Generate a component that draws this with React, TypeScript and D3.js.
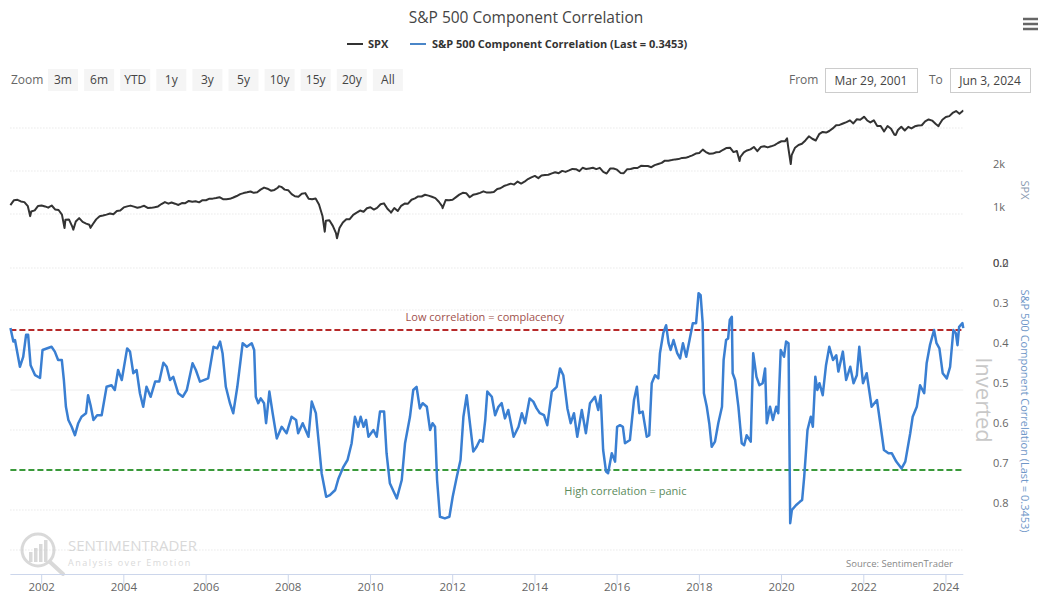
import React from "react";
import * as d3 from "d3";

// ---------------- DATA ----------------
const TITLE = "S&P 500 Component Correlation";
const SERIES_NAMES = ["SPX", "S&P 500 Component Correlation (Last = 0.3453)"];
const ZOOM_BUTTONS = ["3m", "6m", "YTD", "1y", "3y", "5y", "10y", "15y", "20y", "All"];
const FROM_LABEL = "Mar 29, 2001";
const TO_LABEL = "Jun 3, 2024";
const START_DATE = new Date(2001, 2, 29);
const END_DATE = new Date(2024, 5, 3);
const YEAR_TICKS = [2002, 2004, 2006, 2008, 2010, 2012, 2014, 2016, 2018, 2020, 2022, 2024];

// SPX: first point, month-end closes from Apr 2001 to May 2024, last point, plus intra-month extremes
const SPX_FIRST = 1153;
const SPX_LAST = 5283;
const SPX_MONTHLY = [
  1249, 1256, 1224, 1211, 1134, 1041, 1060, 1139, 1148,
  1130, 1107, 1147, 1077, 1067, 990, 912, 916, 815, 886, 936, 880,
  856, 841, 848, 917, 964, 975, 990, 1008, 996, 1051, 1058, 1112,
  1131, 1145, 1126, 1107, 1121, 1141, 1102, 1104, 1115, 1130, 1174, 1212,
  1181, 1204, 1181, 1157, 1192, 1191, 1234, 1220, 1229, 1207, 1249, 1248,
  1280, 1281, 1295, 1311, 1270, 1270, 1277, 1304, 1336, 1378, 1401, 1418,
  1438, 1407, 1421, 1482, 1531, 1503, 1455, 1474, 1527, 1549, 1481, 1468,
  1379, 1331, 1323, 1386, 1400, 1280, 1267, 1283, 1166, 969, 896, 903,
  826, 735, 798, 873, 919, 919, 987, 1021, 1057, 1036, 1096, 1115,
  1074, 1104, 1169, 1187, 1089, 1031, 1102, 1049, 1141, 1183, 1181, 1258,
  1286, 1327, 1326, 1364, 1345, 1321, 1292, 1219, 1131, 1253, 1247, 1258,
  1312, 1366, 1408, 1398, 1310, 1362, 1379, 1407, 1441, 1412, 1416, 1426,
  1498, 1515, 1569, 1598, 1631, 1606, 1686, 1633, 1682, 1757, 1806, 1848,
  1783, 1859, 1872, 1884, 1924, 1960, 1931, 2003, 1972, 2018, 2068, 2059,
  1995, 2105, 2068, 2086, 2107, 2063, 2104, 1972, 1920, 2079, 2080, 2044,
  1940, 1932, 2060, 2065, 2097, 2099, 2174, 2171, 2168, 2126, 2199, 2239,
  2279, 2364, 2363, 2384, 2412, 2423, 2470, 2472, 2519, 2575, 2648, 2674,
  2824, 2714, 2641, 2648, 2705, 2718, 2816, 2902, 2914, 2712, 2760, 2507,
  2704, 2784, 2834, 2946, 2752, 2942, 2980, 2926, 2977, 3038, 3141, 3231,
  3226, 2954, 2585, 2912, 3044, 3100, 3271, 3500, 3363, 3270, 3622, 3756,
  3714, 3811, 3973, 4181, 4204, 4298, 4395, 4523, 4308, 4605, 4567, 4766,
  4516, 4374, 4530, 4132, 4132, 3785, 4130, 3955, 3586, 3872, 4080, 3840,
  4077, 3970, 4109, 4169, 4180, 4450, 4589, 4508, 4288, 4194, 4568, 4770,
  4846, 5096, 5254, 5036, 5278,
];
const SPX_EXTREMES: [string, number][] = [
  ["2001-09-21", 966], ["2002-07-23", 797], ["2002-10-09", 777], ["2003-03-11", 800],
  ["2007-10-09", 1565], ["2008-11-20", 752], ["2009-03-09", 677], ["2010-07-02", 1023],
  ["2011-10-03", 1099], ["2018-12-24", 2351], ["2020-02-19", 3386], ["2020-03-23", 2237],
  ["2022-01-03", 4797], ["2022-10-12", 3577], ["2023-10-27", 4117],
];
const SPX_TICKS = [{ v: 4000, label: "" }, { v: 2000, label: "2k" }, { v: 1000, label: "1k" }];

// Correlation (decimal years, values)
const CORR_YEARS = [
  2001.24, 2001.31, 2001.35, 2001.47, 2001.55, 2001.62, 2001.67, 2001.73, 2001.84, 2001.96,
  2002.02, 2002.24, 2002.32, 2002.40, 2002.49, 2002.54, 2002.59, 2002.65, 2002.73, 2002.81,
  2002.89, 2002.97, 2003.08, 2003.13, 2003.19, 2003.26, 2003.35, 2003.46, 2003.58, 2003.70,
  2003.78, 2003.86, 2003.95, 2004.08, 2004.15, 2004.23, 2004.31, 2004.39, 2004.47, 2004.55,
  2004.65, 2004.76, 2004.86, 2004.96, 2005.04, 2005.12, 2005.20, 2005.32, 2005.43, 2005.53,
  2005.67, 2005.75, 2005.85, 2006.05, 2006.18, 2006.27, 2006.34, 2006.40, 2006.48, 2006.58,
  2006.66, 2006.76, 2006.84, 2006.89, 2006.99, 2007.11, 2007.17, 2007.21, 2007.27, 2007.33,
  2007.41, 2007.46, 2007.54, 2007.62, 2007.72, 2007.84, 2007.96, 2008.08, 2008.19, 2008.24,
  2008.35, 2008.49, 2008.57, 2008.67, 2008.75, 2008.81, 2008.92, 2009.01, 2009.14, 2009.22,
  2009.34, 2009.44, 2009.54, 2009.62, 2009.70, 2009.76, 2009.83, 2009.89, 2009.95, 2010.07,
  2010.15, 2010.23, 2010.33, 2010.39, 2010.47, 2010.64, 2010.76, 2010.84, 2010.96, 2011.04,
  2011.12, 2011.20, 2011.27, 2011.37, 2011.45, 2011.51, 2011.57, 2011.62, 2011.69, 2011.81,
  2011.92, 2012.00, 2012.10, 2012.19, 2012.26, 2012.34, 2012.40, 2012.50, 2012.58, 2012.66,
  2012.73, 2012.79, 2012.84, 2012.95, 2013.03, 2013.11, 2013.19, 2013.27, 2013.35, 2013.48,
  2013.60, 2013.68, 2013.76, 2013.87, 2013.96, 2014.04, 2014.12, 2014.22, 2014.30, 2014.41,
  2014.53, 2014.61, 2014.69, 2014.79, 2014.87, 2014.95, 2015.03, 2015.14, 2015.24, 2015.34,
  2015.46, 2015.54, 2015.60, 2015.66, 2015.73, 2015.78, 2015.87, 2015.95, 2016.00, 2016.07,
  2016.14, 2016.19, 2016.31, 2016.41, 2016.48, 2016.54, 2016.62, 2016.72, 2016.78, 2016.84,
  2016.92, 2017.00, 2017.04, 2017.12, 2017.19, 2017.25, 2017.30, 2017.37, 2017.46, 2017.53,
  2017.60, 2017.68, 2017.76, 2017.84, 2017.92, 2017.98, 2018.03, 2018.08, 2018.11, 2018.18,
  2018.24, 2018.30, 2018.38, 2018.46, 2018.55, 2018.59, 2018.65, 2018.70, 2018.74, 2018.79,
  2018.81, 2018.87, 2018.95, 2019.03, 2019.09, 2019.15, 2019.25, 2019.31, 2019.39, 2019.46,
  2019.54, 2019.60, 2019.64, 2019.72, 2019.79, 2019.87, 2019.92, 2019.98, 2020.06, 2020.11,
  2020.17, 2020.21, 2020.25, 2020.35, 2020.45, 2020.50, 2020.55, 2020.63, 2020.71, 2020.76,
  2020.82, 2020.87, 2020.92, 2021.00, 2021.08, 2021.16, 2021.25, 2021.33, 2021.38, 2021.49,
  2021.57, 2021.67, 2021.75, 2021.83, 2021.89, 2021.98, 2022.07, 2022.19, 2022.32, 2022.40,
  2022.49, 2022.60, 2022.68, 2022.79, 2022.92, 2023.01, 2023.13, 2023.19, 2023.29, 2023.37,
  2023.47, 2023.53, 2023.61, 2023.71, 2023.77, 2023.84, 2023.92, 2024.02, 2024.10, 2024.18,
  2024.24, 2024.28, 2024.32, 2024.40, 2024.42,
];
const CORR_VALUES = [
  0.345, 0.379, 0.375, 0.442, 0.417, 0.362, 0.362, 0.438, 0.463, 0.470,
  0.400, 0.392, 0.404, 0.425, 0.425, 0.475, 0.542, 0.575, 0.592, 0.613,
  0.583, 0.567, 0.558, 0.513, 0.538, 0.575, 0.563, 0.563, 0.492, 0.488,
  0.500, 0.450, 0.475, 0.396, 0.404, 0.458, 0.450, 0.508, 0.542, 0.492,
  0.517, 0.479, 0.479, 0.432, 0.442, 0.475, 0.467, 0.508, 0.517, 0.500,
  0.433, 0.450, 0.479, 0.471, 0.392, 0.396, 0.379, 0.408, 0.492, 0.533,
  0.558, 0.492, 0.425, 0.383, 0.392, 0.383, 0.400, 0.517, 0.533, 0.521,
  0.533, 0.583, 0.504, 0.558, 0.621, 0.592, 0.608, 0.567, 0.575, 0.608,
  0.583, 0.617, 0.529, 0.558, 0.642, 0.708, 0.767, 0.763, 0.750, 0.721,
  0.692, 0.675, 0.633, 0.567, 0.592, 0.567, 0.592, 0.575, 0.617, 0.600,
  0.617, 0.554, 0.554, 0.658, 0.733, 0.771, 0.725, 0.633, 0.567, 0.500,
  0.492, 0.546, 0.533, 0.542, 0.600, 0.583, 0.592, 0.725, 0.817, 0.821,
  0.817, 0.767, 0.717, 0.675, 0.567, 0.513, 0.567, 0.654, 0.642, 0.625,
  0.629, 0.575, 0.504, 0.517, 0.563, 0.542, 0.533, 0.571, 0.550, 0.617,
  0.592, 0.558, 0.583, 0.521, 0.529, 0.546, 0.558, 0.563, 0.588, 0.504,
  0.492, 0.446, 0.463, 0.546, 0.583, 0.558, 0.617, 0.550, 0.608, 0.533,
  0.517, 0.550, 0.513, 0.650, 0.704, 0.708, 0.658, 0.679, 0.592, 0.588,
  0.592, 0.633, 0.625, 0.525, 0.492, 0.558, 0.554, 0.617, 0.613, 0.483,
  0.463, 0.471, 0.408, 0.358, 0.338, 0.383, 0.400, 0.375, 0.408, 0.421,
  0.383, 0.417, 0.375, 0.333, 0.333, 0.258, 0.263, 0.333, 0.508, 0.542,
  0.583, 0.642, 0.629, 0.583, 0.542, 0.425, 0.375, 0.371, 0.325, 0.317,
  0.458, 0.475, 0.542, 0.633, 0.638, 0.613, 0.629, 0.408, 0.467, 0.488,
  0.483, 0.446, 0.583, 0.542, 0.575, 0.542, 0.558, 0.400, 0.417, 0.379,
  0.383, 0.833, 0.800, 0.788, 0.779, 0.775, 0.717, 0.600, 0.567, 0.592,
  0.467, 0.500, 0.483, 0.513, 0.438, 0.392, 0.425, 0.413, 0.454, 0.404,
  0.475, 0.442, 0.483, 0.463, 0.392, 0.483, 0.458, 0.542, 0.525, 0.583,
  0.650, 0.658, 0.658, 0.679, 0.696, 0.679, 0.608, 0.567, 0.542, 0.488,
  0.508, 0.433, 0.388, 0.350, 0.383, 0.396, 0.458, 0.471, 0.442, 0.350,
  0.358, 0.388, 0.342, 0.333, 0.3453,
];
const CORR_TICKS = [0.3, 0.4, 0.5, 0.6, 0.7, 0.8];
const CORR_GRID = [
  { v: 0.3, solid: false }, { v: 0.4, solid: true }, { v: 0.5, solid: true },
  { v: 0.6, solid: false }, { v: 0.7, solid: false }, { v: 0.8, solid: false }, { v: 0.9, solid: false },
];
const PLOT_LINES = [
  { v: 0.35, color: "#b72a2a", label: "Low correlation = complacency", labelColor: "#a0514c", labelYear: 2012.78, dy: -9 },
  { v: 0.7, color: "#3a9a3a", label: "High correlation = panic", labelColor: "#5b8a5b", labelYear: 2016.2, dy: 25 },
];

// ---------------- HELPERS ----------------
const yearToDate = (y: number) => {
  const yr = Math.floor(y);
  const s = new Date(yr, 0, 1).getTime();
  const e = new Date(yr + 1, 0, 1).getTime();
  return new Date(s + (y - yr) * (e - s));
};
const parseDay = (s: string) => {
  const [a, b, c] = s.split("-").map(Number);
  return new Date(a, b - 1, c);
};

const FONT = "'Open Sans', 'DejaVu Sans', sans-serif";

export default function App() {
  const W = 1039, H = 596;
  const x = d3.scaleTime().domain([START_DATE, END_DATE]).range([10.4, 963.3]);
  const ySpx = d3.scaleLog().domain([1000, 4000]).range([214, 128]);
  const yCorr = d3.scaleLinear().domain([0.2, 0.9]).range([270, 550]);

  const spxPts: [Date, number][] = [[START_DATE, SPX_FIRST]];
  SPX_MONTHLY.forEach((v, i) => spxPts.push([new Date(2001, 4 + i, 0), v]));
  spxPts.push([END_DATE, SPX_LAST]);
  SPX_EXTREMES.forEach(([d, v]) => spxPts.push([parseDay(d), v]));
  spxPts.sort((a, b) => a[0].getTime() - b[0].getTime());

  const corrPts: [Date, number][] = CORR_YEARS.map((yy, i) => [yearToDate(yy), CORR_VALUES[i]]);

  const spxLine = d3.line<[Date, number]>().x(d => x(d[0])).y(d => ySpx(d[1]));
  const corrLine = d3.line<[Date, number]>().x(d => x(d[0])).y(d => yCorr(d[1]));

  const [x0, x1] = x.range();

  return (
    <svg width={W} height={H} style={{ position: "absolute", left: 0, top: 0, background: "#fff" }} fontFamily={FONT}>
      <rect width={W} height={H} fill="#fff" />
      {/* Title */}
      <text x={526} y={23} textAnchor="middle" fontSize={15.5} fill="#444">{TITLE}</text>
      {/* hamburger */}
      {[19, 24, 29].map(yy => (
        <line key={yy} x1={1023} x2={1038} y1={yy} y2={yy} stroke="#666" strokeWidth={2.5} />
      ))}
      {/* Legend */}
      <line x1={347} x2={363} y1={44} y2={44} stroke="#333" strokeWidth={2} />
      <text x={368} y={48} fontSize={11} fontWeight="bold" fill="#333">{SERIES_NAMES[0]}</text>
      <line x1={410} x2={426} y1={44} y2={44} stroke="#4a86c8" strokeWidth={2} />
      <text x={432} y={48} fontSize={11} fontWeight="bold" fill="#333">{SERIES_NAMES[1]}</text>

      {/* Range selector */}
      <text x={11} y={84} fontSize={12} fill="#666">Zoom</text>
      {ZOOM_BUTTONS.map((b, i) => {
        const bx = 48 + i * 36.1;
        return (
          <g key={b}>
            <rect x={bx} y={69} width={30} height={22} fill="#f5f5f5" />
            <text x={bx + 15} y={84} textAnchor="middle" fontSize={12} fill="#444">{b}</text>
          </g>
        );
      })}
      <text x={789} y={84} fontSize={12} fill="#666">From</text>
      <rect x={825.5} y={68.5} width={92} height={24} fill="#fff" stroke="#ccc" />
      <text x={871} y={85} textAnchor="middle" fontSize={12} fill="#444">{FROM_LABEL}</text>
      <text x={929} y={84} fontSize={12} fill="#666">To</text>
      <rect x={950.5} y={68.5} width={80} height={24} fill="#fff" stroke="#ccc" />
      <text x={990} y={85} textAnchor="middle" fontSize={12} fill="#444">{TO_LABEL}</text>

      {/* Top pane grid */}
      {SPX_TICKS.map(t => (
        <g key={t.v}>
          <line x1={x0} x2={x1} y1={ySpx(t.v)} y2={ySpx(t.v)} stroke="#ddd" strokeDasharray="1,2" />
          {t.label && <text x={993} y={ySpx(t.v) - 3} fontSize={11} fill="#666">{t.label}</text>}
        </g>
      ))}
      <line x1={x0} x2={x1} y1={268} y2={268} stroke="#ddd" strokeDasharray="1,2" />

      {/* Bottom pane grid */}
      {CORR_GRID.map(g => (
        <line key={g.v} x1={x0} x2={x1} y1={yCorr(g.v)} y2={yCorr(g.v)}
          stroke={g.solid ? "#eee" : "#ddd"} strokeDasharray={g.solid ? undefined : "1,2"} />
      ))}
      {CORR_TICKS.map(t => (
        <text key={t} x={993} y={yCorr(t) - 3} fontSize={11} fill="#666">{t.toFixed(1)}</text>
      ))}
      <text x={993} y={267} fontSize={11} fill="#555">0.2</text>
      <text x={993} y={267} fontSize={11} fill="#555">0.0</text>

      {/* Axis titles */}
      <text transform={`translate(1021,190) rotate(90)`} textAnchor="middle" fontSize={11} fill="#8a9ab0">SPX</text>
      <text transform={`translate(1021,411) rotate(90)`} textAnchor="middle" fontSize={11} fill="#6f97c8">{SERIES_NAMES[1]}</text>
      <text transform={`translate(976,400) rotate(90)`} textAnchor="middle" fontSize={22} fill="#c8c8c8">Inverted</text>

      {/* Watermark */}
      <g opacity={0.55}>
        <circle cx={38} cy={550} r={16} fill="none" stroke="#bbb" strokeWidth={3} />
        {[0, 1, 2, 3].map(i => (
          <rect key={i} x={29 + i * 5} y={552 - i * 4} width={3.5} height={10 + i * 4} fill="#bbb" />
        ))}
        <line x1={50} x2={63} y1={562} y2={574} stroke="#bbb" strokeWidth={4} strokeLinecap="round" />
        <text x={68} y={551} fontSize={15} fill="#bbb">SENTIMENTRADER</text>
        <text x={68} y={566} fontSize={9} fill="#bbb" letterSpacing={1.5}>Analysis over Emotion</text>
      </g>
      <text x={953} y={567} textAnchor="end" fontSize={9.5} fill="#888">Source: SentimenTrader</text>

      {/* Plot lines */}
      {PLOT_LINES.map(p => (
        <g key={p.v}>
          <line x1={x0} x2={x1} y1={yCorr(p.v)} y2={yCorr(p.v)} stroke={p.color} strokeWidth={2} strokeDasharray="6,3" />
          <text x={x(yearToDate(p.labelYear))} y={yCorr(p.v) + p.dy} textAnchor="middle" fontSize={11} fill={p.labelColor}>{p.label}</text>
        </g>
      ))}

      {/* Series */}
      <path d={spxLine(spxPts) || ""} fill="none" stroke="#333" strokeWidth={2} strokeLinejoin="round" />
      <path d={corrLine(corrPts) || ""} fill="none" stroke="#3a7fd2" strokeWidth={2.5} strokeLinejoin="round" />

      {/* X axis */}
      <line x1={x0} x2={x1} y1={574.5} y2={574.5} stroke="#ccd6eb" />
      {YEAR_TICKS.map(yr => {
        const px = x(new Date(yr, 0, 1));
        return (
          <g key={yr}>
            <line x1={px} x2={px} y1={574} y2={584} stroke="#ccd6eb" />
            <text x={px} y={591} textAnchor="middle" fontSize={11.5} fill="#666">{yr}</text>
          </g>
        );
      })}
    </svg>
  );
}
